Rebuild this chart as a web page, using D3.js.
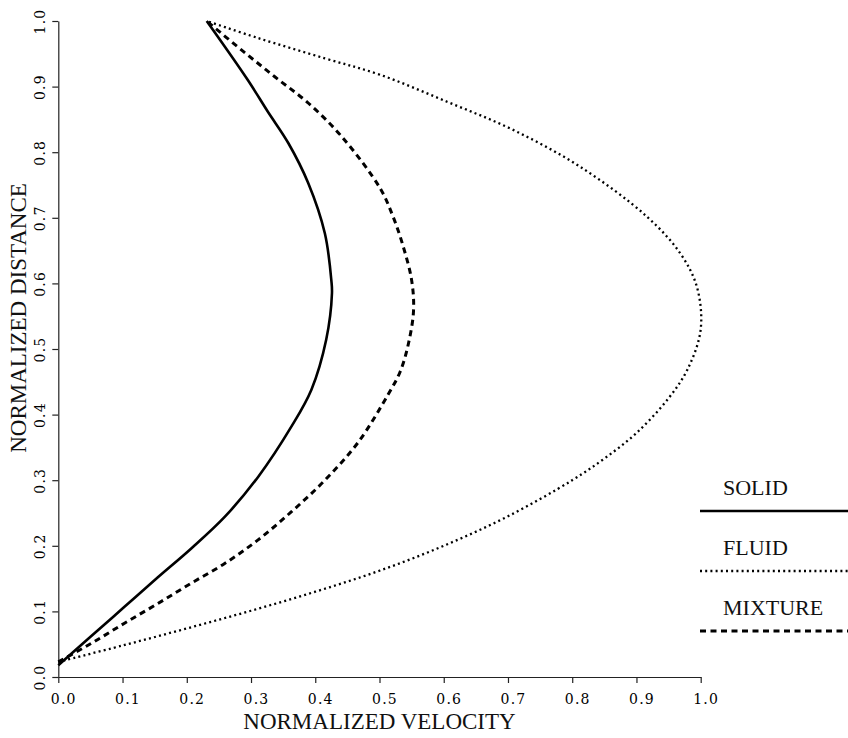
<!DOCTYPE html>
<html>
<head>
<meta charset="utf-8">
<script src="https://cdn.jsdelivr.net/npm/d3@7"></script>
<style>
  html, body { margin: 0; padding: 0; background: #fff; }
  svg { display: block; }
</style>
</head>
<body>
<div id="chart"></div>
<script>
// velocity (x) / distance (y) pairs
const solidProfile = [
  [0.000, 0.018], [0.051, 0.062], [0.103, 0.107], [0.155, 0.152],
  [0.207, 0.196], [0.259, 0.244], [0.311, 0.305], [0.363, 0.382],
  [0.394, 0.438], [0.417, 0.514], [0.426, 0.585], [0.425, 0.605],
  [0.415, 0.676], [0.389, 0.753], [0.358, 0.814], [0.326, 0.862],
  [0.295, 0.910], [0.231, 1.000]
];
const fluidProfile = [
  [0.000, 0.023], [0.100, 0.048], [0.200, 0.074], [0.300, 0.101],
  [0.400, 0.130], [0.500, 0.162], [0.600, 0.200], [0.700, 0.245],
  [0.800, 0.300], [0.850, 0.333], [0.900, 0.372], [0.950, 0.425],
  [0.980, 0.470], [1.000, 0.530], [0.994, 0.595], [0.968, 0.646],
  [0.916, 0.702], [0.812, 0.778], [0.708, 0.834], [0.605, 0.877],
  [0.501, 0.918], [0.415, 0.943], [0.311, 0.974], [0.231, 1.000]
];
const mixtureProfile = [
  [0.000, 0.023], [0.051, 0.051], [0.103, 0.082], [0.155, 0.112],
  [0.207, 0.143], [0.259, 0.173], [0.311, 0.209], [0.363, 0.252],
  [0.415, 0.300], [0.467, 0.358], [0.513, 0.430], [0.532, 0.465],
  [0.545, 0.508], [0.553, 0.559], [0.550, 0.605], [0.537, 0.656],
  [0.521, 0.702], [0.501, 0.745], [0.441, 0.824], [0.389, 0.875],
  [0.337, 0.915], [0.285, 0.956], [0.231, 1.000]
];
const velocityTicks = [0, 0.1, 0.2, 0.3, 0.4, 0.5, 0.6, 0.7, 0.8, 0.9, 1.0];
const distanceTicks = [0, 0.1, 0.2, 0.3, 0.4, 0.5, 0.6, 0.7, 0.8, 0.9, 1.0];
const legendLabels = ["SOLID", "FLUID", "MIXTURE"];

let W = 848, H = 738;
let plot = {left: 58.3, right: 700.7, top: 21, bottom: 677};

let svg = d3.select("#chart")
  .append("svg")
  .attr("width", W)
  .attr("height", H);

let x = d3.scaleLinear().domain([0, 1]).range([plot.left, plot.right]);
let y = d3.scaleLinear().domain([0, 1]).range([plot.bottom, plot.top]);

let tickFont = sel => sel
  .style("font-family", "'DejaVu Serif', serif")
  .style("font-size", "14px")
  .style("letter-spacing", "1.2px")
  .style("fill", "#000");

// X axis
let xAxis = svg.append("g")
  .attr("transform", "translate(0," + plot.bottom + ")")
  .call(d3.axisBottom(x).tickValues(velocityTicks).tickFormat(d3.format(".1f")).tickSize(6).tickSizeOuter(0));
xAxis.selectAll("text")
  .attr("y", 17)
  .attr("dx", 5)
  .call(tickFont);

// Y axis, labels turned on their side
let yAxis = svg.append("g")
  .attr("transform", "translate(" + plot.left + ",0)")
  .call(d3.axisLeft(y).tickValues(distanceTicks).tickFormat(d3.format(".1f")).tickSize(6).tickSizeOuter(0));
yAxis.selectAll(".tick text")
  .attr("x", null).attr("dy", null)
  .attr("text-anchor", "middle")
  .attr("transform", "translate(-13,0) rotate(-90)")
  .call(tickFont);

svg.selectAll(".domain, .tick line")
  .attr("stroke", "#222")
  .attr("stroke-width", 1.2);

// axis titles
let titleFont = sel => sel
  .style("font-family", "'Liberation Serif', serif")
  .style("font-size", "23px")
  .style("fill", "#111");

svg.append("text")
  .attr("x", x(0.5))
  .attr("y", 729)
  .attr("text-anchor", "middle")
  .call(titleFont)
  .text("NORMALIZED VELOCITY");

svg.append("text")
  .attr("transform", "translate(26,318) rotate(-90)")
  .attr("text-anchor", "middle")
  .call(titleFont)
  .text("NORMALIZED DISTANCE");

// profiles
let line = d3.line()
  .x(d => x(d[0]))
  .y(d => y(d[1]))
  .curve(d3.curveCatmullRom.alpha(0.5));

let styles = [
  {data: solidProfile, width: 2.6, dash: null},
  {data: fluidProfile, width: 2.3, dash: "2,3.2"},
  {data: mixtureProfile, width: 3, dash: "6,4.5"}
];

styles.forEach(s => {
  svg.append("path")
    .datum(s.data)
    .attr("d", line)
    .attr("fill", "none")
    .attr("stroke", "#000")
    .attr("stroke-width", s.width)
    .attr("stroke-dasharray", s.dash);
});

// legend at the right edge
let legend = svg.append("g");
legendLabels.forEach((name, i) => {
  let top = 495 + i * 60;
  legend.append("text")
    .attr("x", 723)
    .attr("y", top)
    .call(titleFont)
    .style("font-size", "22px")
    .text(name);
  legend.append("line")
    .attr("x1", 700).attr("x2", 848)
    .attr("y1", top + 16).attr("y2", top + 16)
    .attr("stroke", "#000")
    .attr("stroke-width", styles[i].width)
    .attr("stroke-dasharray", styles[i].dash);
});
</script>
</body>
</html>
